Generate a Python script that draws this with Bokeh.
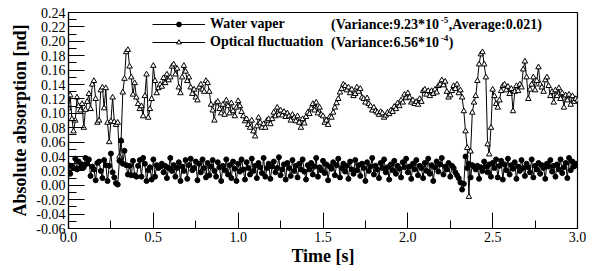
import numpy as np
from bokeh.plotting import figure
from bokeh.models import (FixedTicker, Legend, LegendItem, Label, Range1d,
                          NumeralTickFormatter)
from bokeh.embed import file_html
from bokeh.resources import INLINE

# ---------------- data ----------------
time_s = np.round(np.arange(301) * 0.01, 2)

optical_fluctuation = [
    0.107, 0.125, 0.092, 0.075, 0.090, 0.122, 0.110, 0.104, 0.113, 0.080,
    0.105, 0.116, 0.127, 0.106, 0.140, 0.145, 0.120, 0.087, 0.090, 0.132,
    0.136, 0.107, 0.135, 0.087, 0.060, 0.089, 0.122, 0.088, 0.084, 0.087,
    0.040, 0.062, 0.129, 0.148, 0.185, 0.188, 0.165, 0.150, 0.126, 0.142,
    0.122, 0.113, 0.106, 0.110, 0.096, 0.124, 0.154, 0.094, 0.106, 0.120,
    0.166, 0.145, 0.128, 0.135, 0.140, 0.137, 0.149, 0.142, 0.154, 0.146,
    0.150, 0.165, 0.168, 0.154, 0.162, 0.136, 0.128, 0.150, 0.166, 0.158,
    0.145, 0.150, 0.136, 0.127, 0.133, 0.122, 0.118, 0.136, 0.140, 0.133,
    0.130, 0.145, 0.142, 0.130, 0.112, 0.104, 0.090, 0.114, 0.116, 0.106,
    0.100, 0.112, 0.098, 0.118, 0.110, 0.100, 0.114, 0.103, 0.096, 0.108,
    0.117, 0.110, 0.102, 0.096, 0.089, 0.092, 0.084, 0.080, 0.090, 0.075,
    0.068, 0.082, 0.094, 0.087, 0.080, 0.085, 0.080, 0.090, 0.092, 0.085,
    0.092, 0.101, 0.096, 0.108, 0.098, 0.104, 0.097, 0.102, 0.095, 0.100,
    0.096, 0.090, 0.098, 0.094, 0.089, 0.096, 0.087, 0.080, 0.092, 0.086,
    0.095, 0.101, 0.099, 0.107, 0.113, 0.104, 0.115, 0.100, 0.108, 0.098,
    0.096, 0.087, 0.090, 0.084, 0.095, 0.094, 0.101, 0.108, 0.114, 0.120,
    0.129, 0.134, 0.140, 0.138, 0.132, 0.136, 0.128, 0.133, 0.124, 0.127,
    0.136, 0.130, 0.134, 0.122, 0.120, 0.115, 0.121, 0.113, 0.110, 0.104,
    0.108, 0.103, 0.101, 0.098, 0.102, 0.100, 0.094, 0.097, 0.101, 0.099,
    0.104, 0.102, 0.109, 0.106, 0.114, 0.110, 0.118, 0.115, 0.126, 0.121,
    0.128, 0.122, 0.115, 0.118, 0.113, 0.116, 0.112, 0.120, 0.116, 0.131,
    0.133, 0.126, 0.131, 0.124, 0.131, 0.127, 0.133, 0.129, 0.138, 0.140,
    0.146, 0.139, 0.144, 0.130, 0.122, 0.125, 0.131, 0.138, 0.134, 0.140,
    0.128, 0.132, 0.122, 0.103, 0.075, 0.052, -0.016, 0.047, 0.101, 0.115,
    0.124, 0.145, 0.168, 0.182, 0.185, 0.168, 0.150, 0.057, 0.043, 0.080,
    0.133, 0.124, 0.113, 0.108, 0.118, 0.131, 0.138, 0.140, 0.132, 0.137,
    0.127, 0.134, 0.103, 0.130, 0.138, 0.131, 0.140, 0.136, 0.161, 0.172,
    0.150, 0.120, 0.133, 0.140, 0.150, 0.132, 0.145, 0.164, 0.140, 0.136,
    0.130, 0.146, 0.150, 0.138, 0.124, 0.130, 0.115, 0.132, 0.124, 0.135,
    0.120, 0.128, 0.108, 0.125, 0.118, 0.126, 0.112, 0.124, 0.116, 0.120,
    0.118,
]

water_vapor = [
    0.028, 0.016, 0.026, 0.024, 0.037, 0.022, 0.033, 0.024, 0.029, 0.025,
    0.038, 0.030, 0.036, 0.013, 0.026, 0.022, 0.007, 0.031, 0.033, 0.020,
    0.010, 0.035, 0.028, 0.006, 0.027, 0.044, 0.018, 0.011, 0.003, 0.001,
    0.034, 0.062, 0.030, 0.048, 0.028, 0.015, 0.027, 0.014, 0.034, 0.014,
    0.012, 0.027, 0.035, 0.012, 0.038, 0.030, 0.006, 0.021, 0.025, 0.008,
    0.036, 0.012, 0.028, 0.024, 0.026, 0.030, 0.018, 0.027, 0.010, 0.024,
    0.038, 0.020, 0.028, 0.012, 0.024, 0.032, 0.006, 0.026, 0.020, 0.035,
    0.009, 0.028, 0.037, 0.021, 0.024, 0.033, 0.007, 0.030, 0.018, 0.036,
    0.024, 0.011, 0.031, 0.014, 0.026, 0.035, 0.020, 0.012, 0.032, 0.025,
    0.006, 0.027, 0.021, 0.036, 0.015, 0.028, 0.010, 0.033, 0.023, 0.006,
    0.030, 0.019, 0.036, 0.022, 0.008, 0.032, 0.024, 0.015, 0.037, 0.020,
    0.027, 0.010, 0.031, 0.025, 0.017, 0.038, 0.012, 0.024, 0.030, 0.009,
    0.026, 0.033, 0.018, 0.024, 0.039, 0.014, 0.022, 0.029, 0.008, 0.031,
    0.024, 0.013, 0.035, 0.020, 0.027, 0.011, 0.030, 0.022, 0.036, 0.019,
    0.008, 0.028, 0.022, 0.031, 0.015, 0.026, 0.038, 0.012, 0.025, 0.021,
    0.034, 0.017, 0.029, 0.007, 0.026, 0.023, 0.032, 0.014, 0.028, 0.037,
    0.011, 0.024, 0.030, 0.019, 0.027, 0.009, 0.033, 0.022, 0.016, 0.035,
    0.021, 0.028, 0.013, 0.030, 0.024, 0.006, 0.032, 0.020, 0.026, 0.038,
    0.015, 0.027, 0.022, 0.010, 0.031, 0.024, 0.036, 0.018, 0.025, 0.008,
    0.029, 0.021, 0.034, 0.016, 0.027, 0.023, 0.011, 0.032, 0.025, 0.037,
    0.018, 0.026, 0.009, 0.030, 0.022, 0.035, 0.014, 0.027, 0.024, 0.010,
    0.031, 0.020, 0.037, 0.016, 0.028, 0.006, 0.025, 0.033, 0.019, 0.029,
    0.038, 0.015, 0.026, 0.022, 0.031, 0.012, 0.027, 0.024, 0.018, 0.014,
    0.010, 0.004, -0.006, 0.002, 0.040, 0.024, 0.030, 0.011, 0.028, 0.026,
    0.022, 0.027, 0.009, 0.025, 0.020, 0.033, 0.026, 0.018, 0.029, 0.012,
    0.031, 0.024, 0.036, 0.011, 0.027, 0.034, 0.008, 0.029, 0.021, 0.037,
    0.015, 0.028, 0.023, 0.032, 0.009, 0.026, 0.020, 0.035, 0.024, 0.013,
    0.030, 0.025, 0.018, 0.036, 0.011, 0.027, 0.022, 0.031, 0.016, 0.028,
    0.024, 0.009, 0.030, 0.026, 0.035, 0.019, 0.027, 0.012, 0.029, 0.022,
    0.036, 0.017, 0.025, 0.031, 0.010, 0.038, 0.021, 0.033, 0.026, 0.030,
    0.028,
]

x_tick_values = [0.0, 0.5, 1.0, 1.5, 2.0, 2.5, 3.0]
x_minor_values = [0.25, 0.75, 1.25, 1.75, 2.25, 2.75]
y_tick_values = [-0.06, -0.04, -0.02, 0.0, 0.02, 0.04, 0.06, 0.08, 0.10,
                 0.12, 0.14, 0.16, 0.18, 0.20, 0.22, 0.24]
y_minor_values = [-0.05, -0.03, -0.01, 0.01, 0.03, 0.05, 0.07, 0.09, 0.11,
                  0.13, 0.15, 0.17, 0.19, 0.21, 0.23]

series_names = ["Water vaper", "Optical fluctuation"]
stats_main = ["(Variance:9.23*10", "(Variance:6.56*10"]
stats_exp = ["-5", "-4"]
stats_tail = [",Average:0.021)", ")"]

FONT = "Liberation Serif"

# ---------------- figure ----------------
p = figure(frame_width=509, frame_height=216,
           x_range=Range1d(0, 3), y_range=Range1d(-0.06, 0.24),
           output_backend="svg", toolbar_location=None,
           min_border_left=68, min_border_right=28,
           min_border_top=12, min_border_bottom=42)
p.xgrid.visible = False
p.ygrid.visible = False
p.outline_line_color = "black"
p.outline_line_width = 1.2
p.background_fill_color = "white"

# x axis
xa = p.xaxis[0]
xa.ticker = FixedTicker(ticks=x_tick_values, minor_ticks=x_minor_values)
xa.formatter = NumeralTickFormatter(format="0.0")
xa.major_tick_in = 16
xa.major_tick_out = 0
xa.minor_tick_in = 8
xa.minor_tick_out = 0
xa.axis_label = "Time [s]"

# y axis
ya = p.yaxis[0]
ya.ticker = FixedTicker(ticks=y_tick_values, minor_ticks=y_minor_values)
ya.formatter = NumeralTickFormatter(format="0.00")
ya.major_tick_in = 16
ya.major_tick_out = 0
ya.minor_tick_in = 8
ya.minor_tick_out = 0
ya.axis_label = "Absolute absorption [nd]"

for ax in (xa, ya):
    ax.axis_line_color = "black"
    ax.axis_line_width = 1.2
    ax.major_tick_line_color = "black"
    ax.minor_tick_line_color = "black"
    ax.major_tick_line_width = 1
    ax.minor_tick_line_width = 1
    ax.major_label_text_font = FONT
    ax.major_label_text_font_size = "14px"
    ax.major_label_text_color = "black"
    ax.axis_label_text_font = FONT
    ax.axis_label_text_font_size = "18px"
    ax.axis_label_text_font_style = "bold"
    ax.axis_label_text_color = "black"
    ax.major_label_standoff = 3

xa.axis_label_standoff = 1
ya.axis_label_standoff = 3

# ---------------- series ----------------
o_line = p.line(time_s, optical_fluctuation, line_color="black", line_width=1)
o_pts = p.scatter(time_s, optical_fluctuation, marker="triangle", size=5.5,
                  fill_color="white", line_color="black", line_width=1)
w_line = p.line(time_s, water_vapor, line_color="black", line_width=1)
w_pts = p.scatter(time_s, water_vapor, marker="circle", size=5,
                  fill_color="black", line_color="black")

legend = Legend(items=[
    LegendItem(label=series_names[0], renderers=[w_line, w_pts]),
    LegendItem(label=series_names[1], renderers=[o_line, o_pts]),
], location=(84, 177), orientation="vertical", glyph_width=53, glyph_height=12,
    label_height=18, spacing=0, padding=0, margin=0, border_line_color=None,
    background_fill_alpha=0, label_text_font=FONT, label_text_font_style="bold",
    label_text_font_size="14px", label_text_color="black", label_standoff=5)
p.add_layout(legend)

# stats texts (positions in data units)
def px_t(px):
    return (px - 68) / 169.3

def px_v(py):
    return 0.24 - (py - 12) * 0.30 / 215.0

row_y = [24, 42]
for i in range(2):
    p.add_layout(Label(x=px_t(330), y=px_v(row_y[i]), text=stats_main[i],
                       text_font=FONT, text_font_style="bold",
                       text_font_size="14px", text_baseline="middle",
                       text_color="black"))
    p.add_layout(Label(x=px_t(439.5), y=px_v(row_y[i] - 5), text=stats_exp[i],
                       text_font=FONT, text_font_style="bold",
                       text_font_size="9px", text_baseline="middle",
                       text_color="black"))
    p.add_layout(Label(x=px_t(447.5), y=px_v(row_y[i]), text=stats_tail[i],
                       text_font=FONT, text_font_style="bold",
                       text_font_size="14px", text_baseline="middle",
                       text_color="black"))

open("out.html", "w").write(file_html(p, INLINE))
